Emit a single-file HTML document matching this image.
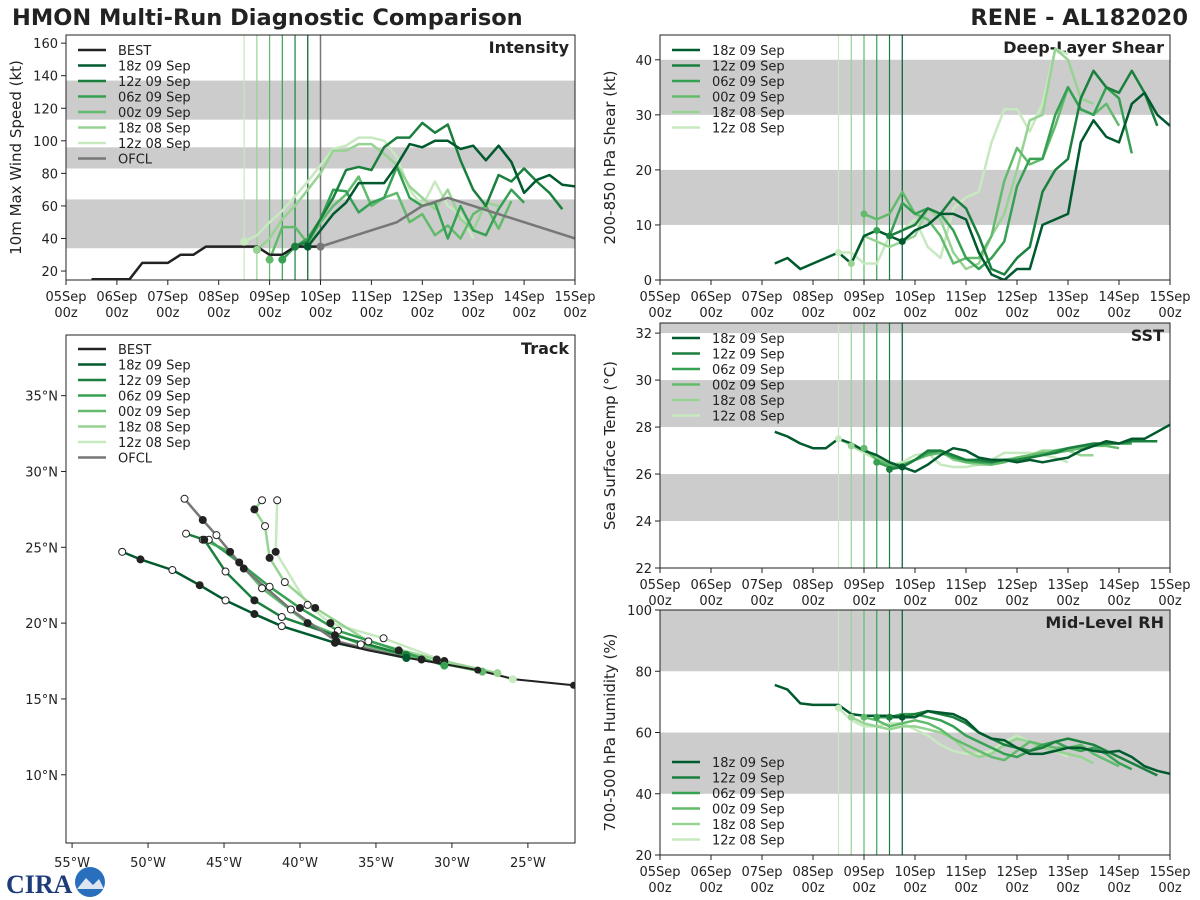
<!DOCTYPE html>
<html><head><meta charset="utf-8">
<style>
html,body{margin:0;padding:0;background:#fff;}
svg{display:block;font-family:"DejaVu Sans","Liberation Sans",sans-serif;}
</style></head>
<body>
<svg id="chart" width="1200" height="900" viewBox="0 0 1200 900">
<text x="12" y="25" font-size="22.5" font-weight="bold" fill="#222">HMON Multi-Run Diagnostic Comparison</text>
<text x="1188" y="25" font-size="22.5" font-weight="bold" fill="#222" text-anchor="end">RENE - AL182020</text>
<g>
<text x="6" y="893" font-size="26" font-weight="bold" fill="#1f3c7a" font-family="Liberation Serif,serif">CIRA</text>
<circle cx="90" cy="882" r="15" fill="#2a6fbd"/>
<path d="M77 889 L86 878 L93 885 L99 879 L104 889 Z" fill="#dde6f0"/>
</g>
</svg>
<script>
// ---------- data ----------
const runLabels = ['18z 09 Sep','12z 09 Sep','06z 09 Sep','00z 09 Sep','18z 08 Sep','12z 08 Sep'];
const runInitHours = [114,108,102,96,90,84];
const bestHours0 = 12;
const bestVmax = [15,15,15,15,25,25,25,30,30,35,35,35,35,35,30,30,35,35,35];
const ofclHours = [120,132,144,156,168,180,192,216,240];
const ofclVmax = [35,40,45,50,60,65,60,50,40];
const vmax18z09 = [35,45,55,62,74,74,74,85,98,96,100,100,95,97,88,97,87,68,76,79,73,72];
const vmax12z09 = [35,38,52,65,82,84,82,96,102,102,111,105,110,88,70,60,79,75,83,75,68,58];
const vmax06z09 = [27,35,40,52,70,69,56,62,65,84,65,60,62,40,60,45,42,58,70,62];
const vmax00z09 = [27,47,47,37,50,60,67,78,60,65,68,50,55,42,48,40,55,60,46,63];
const vmax18z08 = [33,40,52,60,70,80,94,94,98,98,92,85,72,65,58,70,52,45,62,60];
const vmax12z08 = [38,42,50,57,66,75,85,95,97,102,102,100,90,70,60,75,60,55,40];

const shearStart = [54,108,102,96,90,84];
const shear18z09 = [3,4,2,3,4,5,3,8,9,8,7,9,10,12,12,11,5,1,0,2,2,10,11,12,25,29,26,25,32,34,30,28];
const shear12z09 = [8,9,10,13,12,15,13,8,2,1,4,6,16,20,22,33,38,35,34,38,34,28];
const shear06z09 = [9,8,14,12,13,12,9,4,2,4,7,17,22,22,30,35,31,30,35,33,23];
const shear00z09 = [12,11,12,16,12,11,8,3,4,4,8,18,24,21,22,28,35,31,30,32,28];
const shear18z08 = [3,8,7,6,7,8,13,11,5,2,3,8,12,20,29,30,42,40,33,32];
const shear12z08 = [5,5,3,3,8,9,11,6,4,13,15,16,25,31,31,27,32,42,41];

const sstStart = [54,108,102,96,90,84];
const sst18z09 = [27.8,27.6,27.3,27.1,27.1,27.5,27.3,27.0,26.8,26.5,26.3,26.1,26.4,26.8,27.1,27.0,26.7,26.6,26.6,26.5,26.6,26.5,26.6,26.7,27.0,27.2,27.4,27.3,27.5,27.5,27.8,28.1];
const sst12z09 = [26.2,26.3,26.6,27.0,27.0,26.8,26.6,26.6,26.5,26.6,26.6,26.7,26.8,26.9,27.1,27.2,27.3,27.3,27.3,27.4,27.4,27.4];
const sst06z09 = [26.5,26.3,26.3,26.6,26.9,27.0,26.7,26.6,26.5,26.5,26.6,26.6,26.7,26.8,27.0,27.1,27.2,27.2,27.3,27.3,27.3];
const sst00z09 = [27.1,26.6,26.4,26.4,26.6,26.8,26.9,26.7,26.5,26.5,26.4,26.5,26.7,26.8,26.9,26.9,27.0,27.1,27.2,27.2,27.1];
const sst18z08 = [27.2,27.0,26.7,26.5,26.3,26.6,26.8,27.0,26.6,26.5,26.4,26.4,26.6,26.7,26.8,27.0,27.0,27.0,26.8,26.8];
const sst12z08 = [27.5,27.2,26.9,26.6,26.4,26.5,26.8,26.9,26.4,26.3,26.3,26.4,26.6,26.9,26.9,26.9,26.8,26.7,26.5];

const rhStart = [54,108,102,96,90,84];
const rh18z09 = [75.5,74,69.5,69,69,69,66,65.5,65.5,65.5,65,65,67,66.5,66,64,60,58,57.5,55,53,53,54,55,55,54,53.5,54,52,49,47.5,46.5];
const rh12z09 = [65,65,66,67,66,65,63,60,58,56,55,54,55,57,58,57,56,54,52,50,48,46];
const rh06z09 = [65,65,66,66,65,64,62,59,57,55,53,52,54,56,57,55,54,55,53,50,48];
const rh00z09 = [65,64,62,63,64,63,61,58,56,54,52,51,54,57,56,55,55,56,53,51,49];
const rh18z08 = [65,63,62,61,62,62,61,60,58,54,52,53,56,58,57,55,54,53,52,50];
const rh12z08 = [68,64,62,62,63,63,61,59,56,54,53,53,54,57,59,57,55,54,52];

const bestTrackLon = [-22.0,-25.9,-28.3,-30.5,-32.9,-35.5,-37.6];
const bestTrackLat = [15.9,16.3,16.9,17.3,17.7,18.2,18.7];
const ofclLon = [-33.0,-37.6,-40.6,-43.7,-45.5,-46.4,-47.6];
const ofclLat = [17.7,18.8,20.9,23.6,25.8,26.8,28.2];
const trk18z09Lon = [-33.0,-37.7,-41.2,-43.0,-44.9,-46.6,-48.4,-50.5,-51.7];
const trk18z09Lat = [17.7,18.7,19.8,20.6,21.5,22.5,23.5,24.2,24.7];
const trk12z09Lon = [-33.0,-37.7,-41.2,-43.0,-44.9,-46.3,-47.5];
const trk12z09Lat = [17.9,19.2,20.4,21.5,23.4,25.5,25.9];
const trk06z09Lon = [-30.5,-33.5,-37.5,-40.0,-42.0,-44.0,-46.0];
const trk06z09Lat = [17.2,18.2,19.5,21.0,22.4,24.0,25.5];
const trk00z09Lon = [-28.0,-32.0,-36.0,-39.5,-42.5,-44.6,-46.4];
const trk00z09Lat = [16.8,17.6,18.6,20.0,22.3,24.7,25.5];
const trk18z08Lon = [-27.0,-31.0,-35.5,-39.0,-41.0,-42.0,-42.3,-43.0,-42.5];
const trk18z08Lat = [16.7,17.6,18.8,21.0,22.7,24.3,26.4,27.5,28.1];
const trk12z08Lon = [-26.0,-30.5,-34.5,-38.0,-39.5,-41.6,-41.5];
const trk12z08Lat = [16.3,17.5,19.0,20.0,21.2,24.7,28.1];

const xTickDays = ['05Sep','06Sep','07Sep','08Sep','09Sep','10Sep','11Sep','12Sep','13Sep','14Sep','15Sep'];
const lonTicks = [-55,-50,-45,-40,-35,-30,-25];
const latTicks = [10,15,20,25,30,35];

// ---------- helpers ----------
const colors = ['#005a2e','#1b7f3e','#36a153','#62bb6c','#97d393','#c7e9c0'];
const NS='http://www.w3.org/2000/svg';
const svg=document.getElementById('chart');
function mk(tag,attrs,parent){const e=document.createElementNS(NS,tag);for(const k in attrs)e.setAttribute(k,attrs[k]);(parent||svg).appendChild(e);return e;}
function txt(x,y,s,attrs,parent){const e=mk('text',Object.assign({x:x,y:y,'font-size':13,fill:'#222'},attrs||{}),parent);e.textContent=s;return e;}

function timePanel(name,box,ymin,ymax,yticks,bands,ylabel,title,tickFmt){
  const g=mk('g',{});
  
  
  const X=h=>box.x0+(h/240)*(box.x1-box.x0);
  const Y=v=>box.y1-(v-ymin)/(ymax-ymin)*(box.y1-box.y0);
  const clip=mk('clipPath',{id:'clip-'+name},g);
  mk('rect',{x:box.x0,y:box.y0,width:box.x1-box.x0,height:box.y1-box.y0},clip);
  bands.forEach(b=>{
    const r=mk('rect',{x:box.x0,y:Y(Math.min(b[1],ymax)),width:box.x1-box.x0,height:Y(b[0])-Y(Math.min(b[1],ymax)),fill:'#cccccc'},g);
    
    
  });
  yticks.forEach(v=>{
    mk('line',{x1:box.x0-5,x2:box.x0,y1:Y(v),y2:Y(v),stroke:'#222'},g);
    const t=txt(box.x0-8,Y(v)+5,tickFmt?tickFmt(v):v,{'text-anchor':'end'},g);
    
    
  });
  xTickDays.forEach((d,i)=>{
    const x=X(i*24);
    mk('line',{x1:x,x2:x,y1:box.y1,y2:box.y1+5,stroke:'#222'},g);
    const t=txt(x,box.y1+21,d,{'text-anchor':'middle'},g);
    
    
    txt(x,box.y1+37,'00z',{'text-anchor':'middle'},g);
  });
  const yl=txt(0,0,ylabel,{'text-anchor':'middle','font-size':15,transform:`translate(${box.x0-45},${(box.y0+box.y1)/2}) rotate(-90)`},g);
  
  
  const tt=txt(box.x1-6,box.y0+18,title,{'text-anchor':'end','font-size':16,'font-weight':'bold'},g);
  
  
  const pg=mk('g',{'clip-path':`url(#clip-${name})`},g);
  return {g,pg,X,Y,box};
}
function initLines(p){
  runInitHours.forEach((h,i)=>{
    const l=mk('line',{x1:p.X(h),x2:p.X(h),y1:p.box.y0,y2:p.box.y1,stroke:colors[i],'stroke-width':1.2},p.pg);
    
    
  });
}
function series(p,start,vals,color,w,nm){
  const pts=vals.map((v,i)=>p.X(start+6*i).toFixed(1)+','+p.Y(v).toFixed(1)).join(' ');
  const l=mk('polyline',{points:pts,fill:'none',stroke:color,'stroke-width':w||2.5,'stroke-linejoin':'round'},p.pg);
  
  
  return l;
}
function frame(p){mk('rect',{x:p.box.x0,y:p.box.y0,width:p.box.x1-p.box.x0,height:p.box.y1-p.box.y0,fill:'none',stroke:'#222','stroke-width':1},p.g);}
function legend(x,y,entries,parent){
  const g=mk('g',{},parent);
  
  
  entries.forEach((e,i)=>{
    const yy=y+i*15.5;
    mk('line',{x1:x,x2:x+28,y1:yy,y2:yy,stroke:e[1],'stroke-width':2.5},g);
    const t=txt(x+40,yy+5,e[0],{},g);
    
    
  });
}
const runSeriesEntries=runLabels.map((l,i)=>[l,colors[i]]);

// ---------- intensity ----------
const pI=timePanel('intensity',{x0:66,y0:35,x1:575,y1:280},14.5,165,[20,40,60,80,100,120,140,160],[[34,64],[83,96],[113,137]],'10m Max Wind Speed (kt)','Intensity');
initLines(pI);
mk('line',{x1:pI.X(120),x2:pI.X(120),y1:35,y2:280,stroke:'#777','stroke-width':1.5},pI.pg);
const vmaxRuns=[vmax18z09,vmax12z09,vmax06z09,vmax00z09,vmax18z08,vmax12z08];
for(let i=5;i>=0;i--) series(pI,runInitHours[i],vmaxRuns[i],colors[i],2.5,'intensity-line-run-'+i);
series(pI,bestHours0,bestVmax,'#222',2.5,'best-intensity-line');
{const pts=ofclHours.map((h,i)=>pI.X(h)+','+pI.Y(ofclVmax[i])).join(' ');
 const l=mk('polyline',{points:pts,fill:'none',stroke:'#777','stroke-width':2.5},pI.pg);
 
 }
runInitHours.forEach((h,i)=>{const c=mk('circle',{cx:pI.X(h),cy:pI.Y(vmaxRuns[i][0]),r:4,fill:colors[i]},pI.pg);});
mk('circle',{cx:pI.X(120),cy:pI.Y(35),r:4,fill:'#777'},pI.pg);
frame(pI);
legend(78,50,[['BEST','#222'],...runSeriesEntries,['OFCL','#777']],pI.g);

// ---------- shear ----------
const pS=timePanel('shear',{x0:660,y0:35,x1:1170,y1:280},0,44.5,[0,10,20,30,40],[[10,20],[30,40]],'200-850 hPa Shear (kt)','Deep-Layer Shear');
initLines(pS);
const shearRuns=[shear18z09,shear12z09,shear06z09,shear00z09,shear18z08,shear12z08];
for(let i=5;i>=0;i--) series(pS,shearStart[i],shearRuns[i],colors[i],2.5,'shear-line-run-'+i);
runInitHours.forEach((h,i)=>{const v=shearRuns[i][(h-shearStart[i])/6];mk('circle',{cx:pS.X(h),cy:pS.Y(v),r:3.5,fill:colors[i]},pS.pg);});
frame(pS);
legend(672,50,runSeriesEntries,pS.g);

// ---------- SST ----------
const pT=timePanel('sst',{x0:660,y0:323,x1:1170,y1:568},22,32.43,[22,24,26,28,30,32],[[24,26],[28,30],[32,33]],'Sea Surface Temp (°C)','SST');
initLines(pT);
const sstRuns=[sst18z09,sst12z09,sst06z09,sst00z09,sst18z08,sst12z08];
for(let i=5;i>=0;i--) series(pT,sstStart[i],sstRuns[i],colors[i],2.5,'sst-line-run-'+i);
runInitHours.forEach((h,i)=>{const v=sstRuns[i][(h-sstStart[i])/6];mk('circle',{cx:pT.X(h),cy:pT.Y(v),r:3.5,fill:colors[i]},pT.pg);});
frame(pT);
legend(672,338,runSeriesEntries,pT.g);

// ---------- RH ----------
const pR=timePanel('rh',{x0:660,y0:610,x1:1170,y1:855},20,100,[20,40,60,80,100],[[40,60],[80,100]],'700-500 hPa Humidity (%)','Mid-Level RH');
initLines(pR);
const rhRuns=[rh18z09,rh12z09,rh06z09,rh00z09,rh18z08,rh12z08];
for(let i=5;i>=0;i--) series(pR,rhStart[i],rhRuns[i],colors[i],2.5,'rh-line-run-'+i);
runInitHours.forEach((h,i)=>{const v=rhRuns[i][(h-rhStart[i])/6];mk('circle',{cx:pR.X(h),cy:pR.Y(v),r:3.5,fill:colors[i]},pR.pg);});
frame(pR);
legend(672,762,runSeriesEntries,pR.g);

// ---------- track ----------
{
 const box={x0:66,y0:335,x1:575,y1:843};
 const g=mk('g',{});
 
 
 const LX=lon=>box.x0+(lon+55.4)/(33.5)*(box.x1-box.x0);
 const LY=lat=>box.y1-(lat-5.5)/(33.5)*(box.y1-box.y0);
 const clip=mk('clipPath',{id:'clip-track'},g);
 mk('rect',{x:box.x0,y:box.y0,width:box.x1-box.x0,height:box.y1-box.y0},clip);
 const pg=mk('g',{'clip-path':'url(#clip-track)'},g);
 lonTicks.forEach(l=>{const x=LX(l);mk('line',{x1:x,x2:x,y1:box.y1,y2:box.y1+5,stroke:'#222'},g);
   const t=txt(x,box.y1+24,Math.abs(l)+'°W',{'text-anchor':'middle'},g);});
 latTicks.forEach(l=>{const y=LY(l);mk('line',{x1:box.x0-5,x2:box.x0,y1:y,y2:y,stroke:'#222'},g);
   const t=txt(box.x0-8,y+5,l+'°N',{'text-anchor':'end'},g);});
 function trk(lons,lats,color,w,nm,dots){
   const pts=lons.map((v,i)=>LX(v).toFixed(1)+','+LY(lats[i]).toFixed(1)).join(' ');
   const l=mk('polyline',{points:pts,fill:'none',stroke:color,'stroke-width':w,'stroke-linejoin':'round'},pg);
   
   
   if(dots) lons.forEach((v,i)=>{if(i==0)return;mk('circle',{cx:LX(v),cy:LY(lats[i]),r:3.5,fill:i%2?'#222':'#fff',stroke:'#222','stroke-width':1},pg);});
 }
 const tl=[[trk12z08Lon,trk12z08Lat],[trk18z08Lon,trk18z08Lat],[trk00z09Lon,trk00z09Lat],[trk06z09Lon,trk06z09Lat],[trk12z09Lon,trk12z09Lat],[trk18z09Lon,trk18z09Lat]];
 tl.forEach((t,k)=>{const i=5-k;trk(t[0],t[1],colors[i],2.5,'track-run-'+i,false);});
 trk(ofclLon,ofclLat,'#777',2.5,'ofcl-track',false);
 trk(bestTrackLon,bestTrackLat,'#222',2,'best-track',false);
 tl.forEach((t,k)=>{const i=5-k;mk('circle',{cx:LX(t[0][0]),cy:LY(t[1][0]),r:4,fill:colors[i]},pg);trk(t[0],t[1],'none',0,'track-markers-'+i,true);});
 trk(ofclLon,ofclLat,'none',0,'ofcl-markers',true);
 [[-22,15.9],[-28.3,16.9]].forEach(p=>mk('circle',{cx:LX(p[0]),cy:LY(p[1]),r:3.5,fill:'#222'},pg));
 mk('rect',{x:box.x0,y:box.y0,width:box.x1-box.x0,height:box.y1-box.y0,fill:'none',stroke:'#222'},g);
 const tt=txt(box.x1-6,box.y0+19,'Track',{'text-anchor':'end','font-size':16,'font-weight':'bold'},g);
 
 
 legend(78,349,[['BEST','#222'],...runSeriesEntries,['OFCL','#777']],g);
}
</script>
</body></html>
